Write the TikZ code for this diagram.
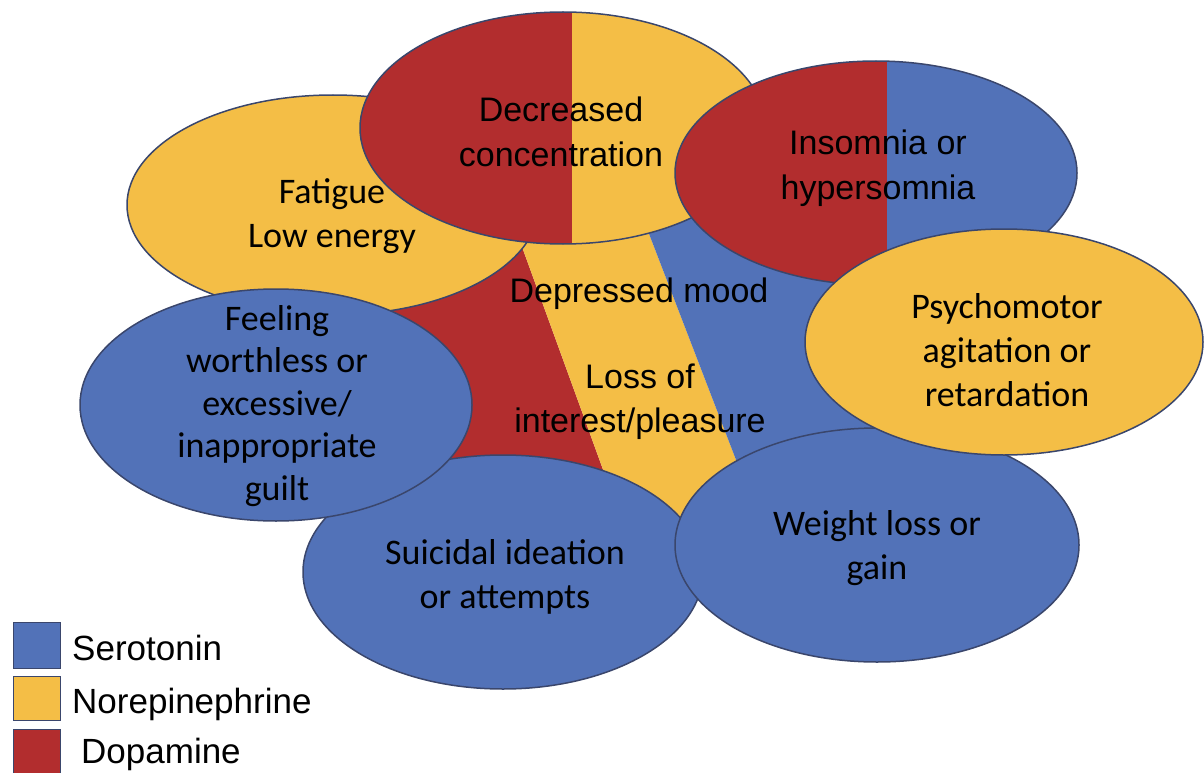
\documentclass[tikz,border=0pt]{standalone}
\usepackage{fontspec}
\setmainfont{Liberation Sans}
\newfontfamily\calib{Carlito}
\usepackage{tikz}
\usetikzlibrary{shapes.geometric}

\definecolor{sero}{RGB}{82,114,184}
\definecolor{norepi}{RGB}{244,190,70}
\definecolor{dopa}{RGB}{178,45,46}
\definecolor{rim}{RGB}{58,70,108}

\begin{document}
\begin{tikzpicture}[x=1pt, y=-1pt,
  blob/.style={ellipse, draw=rim, line width=1.5pt, inner sep=0pt},
  caltxt/.style={align=center, inner sep=0pt, font=\calib\fontsize{36}{44}\selectfont},
  arltxt/.style={align=center, inner sep=0pt, font=\fontsize{34}{45}\selectfont},
  keybox/.style={draw=rim, line width=0.8pt, minimum width=47pt, inner sep=0pt}]
\useasboundingbox (0,0) rectangle (1204,773);
%%% The stripes behind the bubbles
\fill[dopa] (385,200) -- (505,200) -- (625,530) -- (385,530) -- cycle;
\fill[norepi] (505,200) -- (636,200) -- (763,530) -- (625,530) -- cycle;
\fill[sero] (636,200) -- (880,200) -- (880,530) -- (763,530) -- cycle;
%%% The bubbles, back to front
\node[blob, fill=norepi, minimum width=412pt, minimum height=220pt] (fatigue) at (333,205) {};
\node[caltxt] (fatigue-txt) at (332,216) {Fatigue\\Low energy};
\node[blob, fill=norepi, minimum width=406pt, minimum height=232pt,
  path picture={\fill[dopa] (path picture bounding box.south west) rectangle ([xshift=9pt]path picture bounding box.north);}] (concentr) at (563,128) {};
\node[arltxt] (concentr-txt) at (561,132) {Decreased\\concentration};
\node[blob, fill=sero, minimum width=402pt, minimum height=224pt,
  path picture={\fill[dopa] (path picture bounding box.south west) rectangle ([xshift=11pt]path picture bounding box.north);}] (insomnia) at (876,173) {};
\node[arltxt] (insomnia-txt) at (878,168) {Insomnia or\\hypersomnia};
\node[blob, fill=sero, minimum width=400pt, minimum height=234pt] (suicidal) at (503,572) {};
\node[caltxt] (suicidal-txt) at (505,577) {Suicidal ideation\\or attempts};
\node[blob, fill=sero, minimum width=404pt, minimum height=234pt] (weight) at (877,545) {};
\node[caltxt] (weight-txt) at (877,548) {Weight loss or\\gain};
\node[blob, fill=norepi, minimum width=398pt, minimum height=226pt] (psychomotor) at (1004,342) {};
\node[caltxt] (psychomotor-txt) at (1007,350) {Psychomotor\\agitation or\\retardation};
\node[blob, fill=sero, minimum width=392pt, minimum height=232pt] (worthless) at (276,405) {};
\node[caltxt, font=\calib\fontsize{36}{42.5}\selectfont] (worthless-txt) at (277,406) {Feeling\\worthless or\\excessive/\\inappropriate\\guilt};
%%% Labels in the middle
\node[arltxt, anchor=base] (mood) at (639,302) {Depressed mood};
\node[arltxt, font=\fontsize{34}{44}\selectfont] (interest) at (640,402) {Loss of\\interest/pleasure};
% legend
\node[keybox, fill=sero, minimum height=46pt] (sero-box) at (36.5,645) {};
\node[keybox, fill=norepi, minimum height=44pt] (norepi-box) at (36.5,698) {};
\node[keybox, fill=dopa, minimum height=50pt] (dopa-box) at (36.5,754) {};
\node[anchor=base west, inner sep=0pt, font=\fontsize{35}{42}\selectfont] (sero-txt) at (72,660) {Serotonin};
\node[anchor=base west, inner sep=0pt, font=\fontsize{35}{42}\selectfont] (norepi-txt) at (72,713) {Norepinephrine};
\node[anchor=base west, inner sep=0pt, font=\fontsize{35}{42}\selectfont] (dopa-txt) at (81,763) {Dopamine};
\end{tikzpicture}
\end{document}
